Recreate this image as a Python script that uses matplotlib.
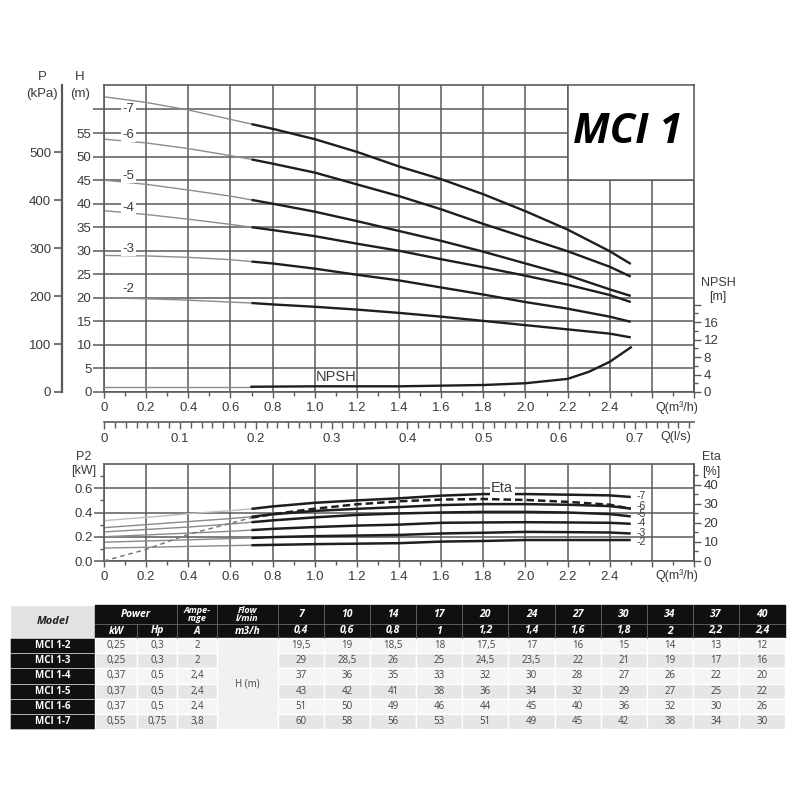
import matplotlib
matplotlib.use('Agg')
import matplotlib.pyplot as plt
from matplotlib.patches import Rectangle
from matplotlib.ticker import MultipleLocator, FixedLocator, FuncFormatter

plt.rcParams['font.family'] = ['Liberation Sans', 'DejaVu Sans']

# ---- curve data ----
Q = [0, 0.2, 0.4, 0.6, 0.7, 0.8, 1.0, 1.2, 1.4, 1.6, 1.8, 2.0, 2.2, 2.4, 2.5]
SPLIT = 4  # Q=0.7, thin line before, thick line after

STAGES = ['-7', '-6', '-5', '-4', '-3', '-2']
H7 = [62.7, 61.5, 59.9, 57.9, 56.9, 55.9, 53.7, 51.0, 47.9, 45.2, 42.0, 38.4, 34.5, 29.9, 27.2]
H6 = [53.7, 52.9, 51.7, 50.2, 49.4, 48.5, 46.6, 44.1, 41.6, 38.8, 35.7, 32.8, 29.9, 26.6, 24.5]
H5 = [45.0, 44.1, 42.9, 41.6, 40.8, 40.0, 38.3, 36.3, 34.2, 32.1, 29.8, 27.3, 24.8, 21.8, 20.4]
H4 = [38.5, 37.7, 36.7, 35.6, 35.0, 34.4, 33.1, 31.5, 30.0, 28.2, 26.5, 24.7, 22.8, 20.6, 19.1]
H3 = [29.0, 28.9, 28.6, 28.1, 27.7, 27.3, 26.2, 24.9, 23.7, 22.2, 20.7, 19.1, 17.7, 16.0, 14.9]
H2 = [20.0, 19.8, 19.5, 19.1, 18.9, 18.6, 18.1, 17.5, 16.8, 16.0, 15.1, 14.2, 13.3, 12.4, 11.6]
HEADS = [H7, H6, H5, H4, H3, H2]

NPSH_Q = [0, 0.7, 1.0, 1.4, 1.8, 2.0, 2.2, 2.3, 2.4, 2.5]
NPSH = [1.2, 1.2, 1.3, 1.3, 1.6, 2.0, 3.0, 4.6, 6.9, 10.2]

P7 = [0.333, 0.36, 0.39, 0.415, 0.43, 0.45, 0.48, 0.50, 0.517, 0.539, 0.552, 0.552, 0.547, 0.541, 0.528]
P6 = [0.275, 0.30, 0.325, 0.35, 0.365, 0.385, 0.413, 0.43, 0.445, 0.461, 0.469, 0.469, 0.464, 0.453, 0.432]
P5 = [0.24, 0.26, 0.28, 0.305, 0.32, 0.335, 0.36, 0.38, 0.392, 0.40, 0.405, 0.405, 0.40, 0.387, 0.368]
P4 = [0.20, 0.215, 0.23, 0.245, 0.255, 0.265, 0.28, 0.292, 0.30, 0.315, 0.318, 0.32, 0.318, 0.315, 0.307]
P3 = [0.155, 0.165, 0.175, 0.185, 0.19, 0.197, 0.205, 0.21, 0.215, 0.227, 0.233, 0.24, 0.238, 0.235, 0.227]
P2 = [0.107, 0.113, 0.12, 0.127, 0.13, 0.133, 0.139, 0.143, 0.147, 0.16, 0.165, 0.173, 0.173, 0.173, 0.173]
POWERS = [P7, P6, P5, P4, P3, P2]
ETA = [0, 6.1, 14.0, 19.8, 22.8, 24.6, 27.5, 29.8, 31.4, 32.3, 32.6, 32.1, 31.1, 29.6, 27.5]

# ---- table data ----
MODELS = ['MCI 1-2', 'MCI 1-3', 'MCI 1-4', 'MCI 1-5', 'MCI 1-6', 'MCI 1-7']
KW = [0.25, 0.25, 0.37, 0.37, 0.37, 0.55]
HP = [0.3, 0.3, 0.5, 0.5, 0.5, 0.75]
AMP = [2, 2, 2.4, 2.4, 2.4, 3.8]
FLOW_LMIN = [7, 10, 14, 17, 20, 24, 27, 30, 34, 37, 40]
FLOW_M3H = [0.4, 0.6, 0.8, 1, 1.2, 1.4, 1.6, 1.8, 2, 2.2, 2.4]
HEAD_TABLE = [
    [19.5, 19, 18.5, 18, 17.5, 17, 16, 15, 14, 13, 12],
    [29, 28.5, 26, 25, 24.5, 23.5, 22, 21, 19, 17, 16],
    [37, 36, 35, 33, 32, 30, 28, 27, 26, 22, 20],
    [43, 42, 41, 38, 36, 34, 32, 29, 27, 25, 22],
    [51, 50, 49, 46, 44, 45, 40, 36, 32, 30, 26],
    [60, 58, 56, 53, 51, 49, 45, 42, 38, 34, 30],
]

GRID = '#5a5a5a'
TXT = '#3a3a3a'
THICK = '#1e1e1e'
THIN = '#8c8c8c'
W = H = 800


def px_rect(x0, y0, x1, y1):
    return [x0 / W, 1 - y1 / H, (x1 - x0) / W, (y1 - y0) / H]


def ptext(x, y, s, **kw):
    fig.text(x / W, 1 - y / H, s, ha='center', va='center', color=TXT, **kw)


def qfmt(v, pos=None):
    if abs(v) < 1e-9:
        return '0'
    if v > 2.5:
        return ''
    return f'{v:.1f}'


def comma(v):
    return f'{v:g}'.replace('.', ',')


fig = plt.figure(figsize=(8, 8), dpi=100)

# ================= head chart =================
ax = fig.add_axes(px_rect(104, 85, 694, 392))
ax.set_xlim(0, 2.8)
ax.set_ylim(0, 65.2)
ax.xaxis.set_major_locator(MultipleLocator(0.2))
ax.xaxis.set_minor_locator(MultipleLocator(0.1))
ax.xaxis.set_major_formatter(FuncFormatter(qfmt))
ax.yaxis.set_major_locator(FixedLocator(list(range(0, 61, 5))))
ax.yaxis.set_major_formatter(FuncFormatter(lambda v, p: '' if v >= 60 else f'{v:g}'))
ax.grid(True, which='major', color=GRID, lw=1.1)
ax.set_axisbelow(True)
for s in ax.spines.values():
    s.set_color(GRID)
    s.set_linewidth(1.2)
ax.tick_params(axis='y', length=8, width=1.1, color=GRID, labelsize=9.5, labelcolor=TXT, pad=1)
ax.tick_params(axis='x', which='major', length=4, width=1, color=GRID, labelsize=9.5, labelcolor=TXT, pad=3)
ax.tick_params(axis='x', which='minor', length=3, width=1, color=GRID)

for h in HEADS:
    ax.plot(Q[:SPLIT + 1], h[:SPLIT + 1], color=THIN, lw=1.0, zorder=2)
    ax.plot(Q[SPLIT:], h[SPLIT:], color=THICK, lw=1.7, zorder=2, solid_capstyle='butt')

label_h = [60, 54.6, 45.9, 39.1, 30.4, 21.8]
for lab, yh in zip(STAGES, label_h):
    ax.text(0.115, yh, lab, ha='center', va='center', fontsize=9.5, color=TXT, zorder=4,
            bbox=dict(fc='white', ec='none', pad=1.0))

ax.text(1.10, 3.1, 'NPSH', ha='center', va='center', fontsize=10.5, color=TXT, zorder=4)

ax.add_patch(Rectangle((2.2, 45), 0.6, 20.2, fc='white', ec=GRID, lw=1.1, zorder=3))
ax.text(2.487, 55.2, 'MCI 1', family=['Open Sans', 'DejaVu Sans'], fontweight='bold',
        fontstyle='italic', fontsize=30, ha='center', va='center', color='black', zorder=4)

# pressure axis (kPa)
axp = ax.twinx()
axp.set_ylim(0, 65.2 * 9.81)
axp.yaxis.set_ticks_position('left')
axp.spines['left'].set_visible(True)
axp.spines['left'].set_position(('outward', 30))
axp.spines['left'].set_color(GRID)
axp.spines['left'].set_linewidth(1.6)
for s in ['right', 'top', 'bottom']:
    axp.spines[s].set_visible(False)
axp.yaxis.set_major_locator(FixedLocator([0, 100, 200, 300, 400, 500]))
axp.tick_params(axis='y', length=6, width=1.2, color=GRID, labelsize=9.5, labelcolor=TXT, pad=2)

# NPSH axis
axn = ax.twinx()
axn.set_ylim(0, 70.2)
for s in ['left', 'top', 'bottom']:
    axn.spines[s].set_visible(False)
axn.spines['right'].set_bounds(0, 20.5)
axn.spines['right'].set_color(GRID)
axn.spines['right'].set_linewidth(1.2)
axn.yaxis.set_major_locator(FixedLocator([0, 4, 8, 12, 16, 20]))
axn.yaxis.set_minor_locator(FixedLocator([2, 6, 10, 14, 18]))
axn.yaxis.set_major_formatter(FuncFormatter(lambda v, p: '' if v >= 20 else f'{v:g}'))
axn.tick_params(axis='y', which='major', length=5, width=1, color=GRID, labelsize=9.5, labelcolor=TXT, pad=2)
axn.tick_params(axis='y', which='minor', length=3, width=1, color=GRID)
axn.plot(NPSH_Q[:2], NPSH[:2], color=THIN, lw=1.0)
axn.plot(NPSH_Q[1:], NPSH[1:], color=THICK, lw=1.7)

# flow in l/s
sec = ax.secondary_xaxis(-0.097, functions=(lambda q: q / 3.6, lambda q: q * 3.6))
sec.xaxis.set_major_locator(MultipleLocator(0.1))
sec.xaxis.set_minor_locator(MultipleLocator(0.1 / 7))
sec.xaxis.set_major_formatter(FuncFormatter(lambda v, p: '0' if abs(v) < 1e-9 else f'{v:.1f}'))
sec.spines['bottom'].set_color(GRID)
sec.spines['bottom'].set_linewidth(1.2)
sec.tick_params(axis='x', which='major', length=5, width=1, color=GRID, labelsize=9.5, labelcolor=TXT, pad=3)
sec.tick_params(axis='x', which='minor', length=4, width=1, color=GRID)

ptext(42, 77, 'P', fontsize=9.5)
ptext(42, 94, '(kPa)', fontsize=9.5)
ptext(80, 77, 'H', fontsize=9.5)
ptext(80, 94, '(m)', fontsize=9.5)
ptext(718, 283, 'NPSH', fontsize=9)
ptext(718, 297, '[m]', fontsize=9)
ptext(677, 408, 'Q(m³/h)', fontsize=9)
ptext(676, 437, 'Q(l/s)', fontsize=9)

# ================= power / efficiency chart =================
ax2 = fig.add_axes(px_rect(104, 464, 694, 561))
ax2.set_xlim(0, 2.8)
ax2.set_ylim(0, 0.8)
ax2.xaxis.set_major_locator(MultipleLocator(0.2))
ax2.xaxis.set_minor_locator(MultipleLocator(0.1))
ax2.xaxis.set_major_formatter(FuncFormatter(qfmt))
ax2.yaxis.set_major_locator(FixedLocator([0, 0.2, 0.4, 0.6]))
ax2.yaxis.set_minor_locator(FixedLocator([0.1, 0.3, 0.5, 0.7]))
ax2.yaxis.set_major_formatter(FuncFormatter(lambda v, p: f'{v:.1f}'))
ax2.grid(True, which='major', color=GRID, lw=1.1)
ax2.set_axisbelow(True)
for s in ax2.spines.values():
    s.set_color(GRID)
    s.set_linewidth(1.2)
ax2.tick_params(axis='y', which='major', length=7, width=1.1, color=GRID, labelsize=9.5, labelcolor=TXT, pad=1)
ax2.tick_params(axis='y', which='minor', length=3, width=1, color=GRID)
ax2.tick_params(axis='x', which='major', length=4, width=1, color=GRID, labelsize=9.5, labelcolor=TXT, pad=3)
ax2.tick_params(axis='x', which='minor', length=3, width=1, color=GRID)

thin_cols = ['#bdbdbd', '#8a8a8a', '#8a8a8a', '#8a8a8a', '#8a8a8a', '#8a8a8a']
for p, c in zip(POWERS, thin_cols):
    ax2.plot(Q[:SPLIT + 1], p[:SPLIT + 1], color=c, lw=1.0, zorder=2)
    ax2.plot(Q[SPLIT:], p[SPLIT:], color=THICK, lw=1.8, zorder=2, solid_capstyle='butt')

label_p = [0.54, 0.455, 0.385, 0.31, 0.235, 0.16]
for lab, yp in zip(STAGES, label_p):
    ax2.text(2.525, yp, lab, ha='left', va='center', fontsize=7.5, color=TXT, zorder=4)

ax2.text(1.89, 0.6, 'Eta', ha='center', va='center', fontsize=10.5, color=TXT, zorder=4,
         bbox=dict(fc='white', ec='none', pad=1.0))

axe = ax2.twinx()
axe.set_ylim(0, 51)
for s in ['left', 'top', 'bottom']:
    axe.spines[s].set_visible(False)
axe.spines['right'].set_color(GRID)
axe.spines['right'].set_linewidth(1.2)
axe.yaxis.set_major_locator(FixedLocator([0, 10, 20, 30, 40]))
axe.yaxis.set_minor_locator(FixedLocator([5, 15, 25, 35, 45]))
axe.tick_params(axis='y', which='major', length=5, width=1, color=GRID, labelsize=9.5, labelcolor=TXT, pad=2)
axe.tick_params(axis='y', which='minor', length=3, width=1, color=GRID)
axe.plot(Q[:SPLIT + 1], ETA[:SPLIT + 1], color='#777777', lw=1.1, dashes=(3, 2.5))
axe.plot(Q[SPLIT:], ETA[SPLIT:], color=THICK, lw=1.8, dashes=(3, 1.6))

ptext(84, 457, 'P2', fontsize=9)
ptext(84, 471, '[kW]', fontsize=9)
ptext(711, 457, 'Eta', fontsize=9)
ptext(711, 472, '[%]', fontsize=9)
ptext(677, 576, 'Q(m³/h)', fontsize=9)

# ================= table =================
tab = fig.add_axes([0, 0, 1, 1])
tab.set_xlim(0, W)
tab.set_ylim(H, 0)
tab.axis('off')
tab.patch.set_alpha(0)

TF = ['Open Sans', 'DejaVu Sans']
BLACK = '#101010'
SEP = '#6a6a6a'
fw = (785 - 278) / 11
flow_x = [278 + i * fw for i in range(12)]
y_top, y_mid, y_hdr = 605, 624, 638
rh = (729 - 638) / 6


def cell(x0, y0, x1, y1, fc, ec='white', lw=1.0):
    tab.add_patch(Rectangle((x0, y0), x1 - x0, y1 - y0, fc=fc, ec=ec, lw=lw))


def ctext(x, y, s, **kw):
    tab.text(x, y, s, ha='center', va='center', family=TF, **kw)


# header
cell(10, y_top, 95, y_hdr, '#e2e2e2')
ctext(52.5, (y_top + y_hdr) / 2, 'Model', fontsize=8, fontstyle='italic', fontweight='bold', color='#222222')
cell(95, y_top, 785, y_hdr, BLACK, ec=BLACK)
tab.plot([95, 785], [y_mid, y_mid], color=SEP, lw=0.6)
for x in [177, 217] + flow_x[:-1]:
    tab.plot([x, x], [y_top, y_hdr], color=SEP, lw=0.6)
tab.plot([137, 137], [y_mid, y_hdr], color=SEP, lw=0.6)

hdr = dict(fontsize=7.5, fontstyle='italic', fontweight='bold', color='white')
r1 = (y_top + y_mid) / 2
r2 = (y_mid + y_hdr) / 2
ctext(136, r1, 'Power', **hdr)
ctext(116, r2, 'kW', **hdr)
ctext(157, r2, 'Hp', **hdr)
ctext(197, r1, 'Ampe-\nrage', linespacing=0.85, fontsize=6.5, fontstyle='italic', fontweight='bold', color='white')
ctext(197, r2, 'A', **hdr)
ctext(247.5, r1, 'Flow\nl/min', linespacing=0.85, fontsize=6.5, fontstyle='italic', fontweight='bold', color='white')
ctext(247.5, r2, 'm3/h', **hdr)
for i in range(11):
    xc = (flow_x[i] + flow_x[i + 1]) / 2
    ctext(xc, r1, comma(FLOW_LMIN[i]), **hdr)
    ctext(xc, r2, comma(FLOW_M3H[i]), **hdr)

# body
cell(217, y_hdr, 278, y_hdr + 6 * rh, '#f1f1f1')
ctext(247.5, y_hdr + 3 * rh, 'H (m)', fontsize=7, color='#444444')
for r in range(6):
    y0 = y_hdr + r * rh
    y1 = y0 + rh
    yc = (y0 + y1) / 2
    bg = '#f5f5f5' if r % 2 == 0 else '#e6e6e6'
    cell(10, y0, 95, y1, BLACK, ec='#d0d0d0', lw=0.5)
    ctext(52.5, yc, MODELS[r], fontsize=7, fontweight='bold', color='white')
    for (x0, x1), v in zip([(95, 137), (137, 177), (177, 217)], [KW[r], HP[r], AMP[r]]):
        cell(x0, y0, x1, y1, bg)
        ctext((x0 + x1) / 2, yc, comma(v), fontsize=7, color='#444444')
    for i in range(11):
        cell(flow_x[i], y0, flow_x[i + 1], y1, bg)
        ctext((flow_x[i] + flow_x[i + 1]) / 2, yc, comma(HEAD_TABLE[r][i]), fontsize=7, color='#444444')

fig.savefig('out.png', dpi=100, facecolor='white')
